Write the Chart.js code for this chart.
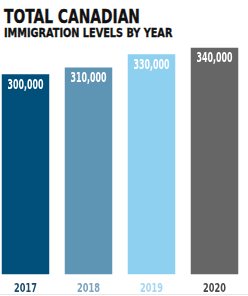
<!DOCTYPE html>
<html>
<head>
<meta charset="utf-8">
<script src="https://cdn.jsdelivr.net/npm/chart.js@4.4.1/dist/chart.umd.min.js"></script>
<style>
  html, body { margin: 0; padding: 0; background: #ffffff; overflow: hidden; }
  body { width: 248px; height: 296px; position: relative; }
  .title {
    position: absolute; left: 4px; white-space: nowrap; color: #111111;
    font-family: "DejaVu Sans Condensed", "DejaVu Sans", sans-serif;
    font-weight: bold; transform-origin: left top;
    -webkit-text-stroke: 0.3px #111111;
  }
  #title-main { top: 7px; font-size: 19px; line-height: 19px; transform: scaleX(0.81); }
  #title-sub { top: 27px; font-size: 12.5px; line-height: 12.5px; transform: scaleX(0.865); }
  #chart-wrap { position: absolute; left: -6px; top: 0; width: 252px; height: 296px; }
  #bottom-rule { position: absolute; left: 0; top: 294px; width: 248px; height: 1px; background: #e6e6e6; }
</style>
</head>
<body>
<div class="title" id="title-main">TOTAL CANADIAN</div>
<div class="title" id="title-sub">IMMIGRATION LEVELS BY YEAR</div>
<div id="chart-wrap"><canvas id="chart-immigration"></canvas></div>
<div id="bottom-rule"></div>
<script>
// Chart data
const years = ['2017', '2018', '2019', '2020'];
const immigrants = [300000, 310000, 330000, 340000];
const valueLabels = ['300,000', '310,000', '330,000', '340,000'];

// Colours per year
const barColors = ['#00507b', '#5f95b4', '#8ed0ef', '#666666'];
const yearColors = ['#1c4a6b', '#7aa4bd', '#a3d7f1', '#4a4a4a'];

const FONT = '"DejaVu Sans Condensed", "DejaVu Sans", sans-serif';

/**
 * Draw condensed text (the reference uses a narrow DIN-like face)
 */
function drawCondensed(ctx, text, x, y, squeeze) {
  ctx.save();
  ctx.translate(x, y);
  ctx.scale(squeeze, 1);
  ctx.fillText(text, 0, 0);
  ctx.restore();
}

/**
 * White value labels inside the bars + coloured year labels under them
 */
const labelPlugin = {
  id: 'barLabels',
  afterDatasetsDraw(chart) {
    const ctx = chart.ctx;
    const meta = chart.getDatasetMeta(0);
    const xScale = chart.scales.x;
    ctx.save();
    ctx.textAlign = 'center';
    ctx.textBaseline = 'alphabetic';

    ctx.fillStyle = '#ffffff';
    ctx.font = 'bold 13.5px ' + FONT;
    meta.data.forEach((bar, i) => {
      drawCondensed(ctx, valueLabels[i], bar.x, bar.y + 14.5, 0.65);
    });

    ctx.font = 'bold 13px ' + FONT;
    years.forEach((year, i) => {
      ctx.fillStyle = yearColors[i];
      drawCondensed(ctx, year, xScale.getPixelForTick(i), 292, 0.7);
    });
    ctx.restore();
  },
};

new Chart(document.getElementById('chart-immigration'), {
  type: 'bar',
  data: {
    labels: years,
    datasets: [
      {
        data: immigrants,
        backgroundColor: barColors,
        borderWidth: 0,
        barPercentage: 0.754,
        categoryPercentage: 1,
      },
    ],
  },
  options: {
    responsive: true,
    maintainAspectRatio: false,
    animation: false,
    layout: { padding: { top: 47.5, left: 0, right: 0, bottom: 21.5 } },
    plugins: {
      legend: { display: false },
      tooltip: { enabled: false },
    },
    scales: {
      x: {
        display: false,
      },
      y: {
        display: false,
        min: 0,
        max: 340000,
      },
    },
  },
  plugins: [labelPlugin],
});
</script>
</body>
</html>
